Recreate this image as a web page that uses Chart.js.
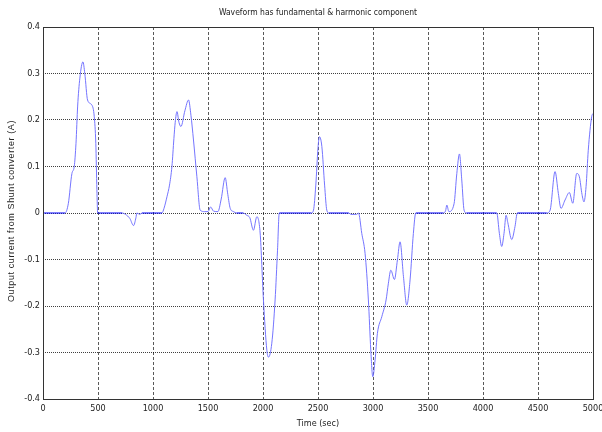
<!DOCTYPE html>
<html>
<head>
<meta charset="utf-8">
<script src="https://cdn.jsdelivr.net/npm/chart.js@4.4.1/dist/chart.umd.min.js"></script>
<style>
  html, body { margin: 0; padding: 0; background: #fff; }
  #wrap { width: 602px; height: 432px; }
</style>
</head>
<body>
<div id="wrap"><canvas id="ourChart" width="602" height="432"></canvas></div>
<script>
// values
let timeSec = [0, 200, 230, 263, 284, 300, 315, 335, 363, 380, 405, 445, 466, 480, 490, 497, 500,
    720, 750, 790, 823, 845, 853, 880, 900,
    1081, 1100, 1127, 1150, 1172, 1190, 1202, 1218, 1236, 1254, 1290, 1323, 1345, 1368, 1399, 1429,
    1470, 1500, 1524, 1550, 1590, 1620, 1656, 1680, 1702, 1732, 1760,
    1820, 1853, 1880, 1913, 1944, 1974, 2004, 2035, 2050, 2080, 2110, 2132, 2148,
    2440, 2459, 2480, 2500, 2513, 2535, 2560, 2580, 2600,
    2780, 2800, 2850, 2868, 2898, 2928, 2958, 2980, 2998, 3019, 3040, 3080, 3119, 3140, 3162,
    3195, 3222, 3246, 3277, 3307, 3337, 3367, 3389,
    3640, 3660, 3671, 3690, 3737, 3762, 3786, 3807, 3828, 3850,
    4125, 4149, 4170, 4191, 4210, 4225, 4261, 4291, 4312,
    4580, 4610, 4655, 4685, 4709, 4746, 4785, 4816, 4852, 4876, 4900, 4918, 4937, 4957, 4988, 5000];

let currentA = [0, 0, 0.02, 0.085, 0.10, 0.15, 0.23, 0.29, 0.325, 0.30, 0.243, 0.232, 0.207, 0.15, 0.05, 0, 0,
    0, -0.003, -0.012, -0.027, -0.01, 0, -0.003, 0,
    0, 0.01, 0.035, 0.06, 0.1, 0.16, 0.195, 0.218, 0.195, 0.186, 0.22, 0.243, 0.21, 0.157, 0.078, 0.006,
    0.003, 0.003, 0.013, 0.004, 0.003, 0.03, 0.076, 0.04, 0.01, 0.003, 0,
    0, -0.005, -0.01, -0.037, -0.008, -0.043, -0.187, -0.295, -0.31, -0.28, -0.187, -0.08, 0,
    0, 0.006, 0.06, 0.14, 0.164, 0.143, 0.06, 0.006, 0,
    0, -0.003, -0.003, 0, -0.044, -0.087, -0.187, -0.295, -0.352, -0.316, -0.259, -0.223, -0.187, -0.151, -0.123,
    -0.143, -0.101, -0.062, -0.137, -0.198, -0.144, -0.044, 0,
    0, 0.005, 0.017, 0.003, 0.02, 0.085, 0.127, 0.071, 0.006, 0,
    0, -0.044, -0.072, -0.044, -0.005, -0.02, -0.057, -0.029, 0,
    0, 0.006, 0.089, 0.042, 0.01, 0.028, 0.044, 0.021, 0.085, 0.078, 0.04, 0.024, 0.057, 0.135, 0.207, 0.214];

let xTicks = [0, 500, 1000, 1500, 2000, 2500, 3000, 3500, 4000, 4500, 5000];
let yTicks = [-0.4, -0.3, -0.2, -0.1, 0, 0.1, 0.2, 0.3, 0.4];

let chartTitle = 'Waveform has fundamental & harmonic component';
let xTitle = 'Time (sec)';
let yTitle = 'Output current from Shunt converter (A)';

let points = timeSec.map((t, i) => ({ x: t, y: currentA[i] }));

let narrow = "'DejaVu Sans Condensed', 'Liberation Sans Narrow', 'Liberation Sans', sans-serif";

// box round the plot and the texts outside it
const framePlugin = {
    id: 'frame',
    afterDraw(chart) {
        const ctx = chart.ctx;
        const a = chart.chartArea;
        ctx.save();
        ctx.strokeStyle = '#333';
        ctx.lineWidth = 1;
        ctx.strokeRect(Math.round(a.left) + 0.5, Math.round(a.top) + 0.5,
            Math.round(a.right - a.left), Math.round(a.bottom - a.top));

        ctx.fillStyle = '#222';
        ctx.textAlign = 'center';
        ctx.textBaseline = 'middle';
        ctx.font = '8.5px ' + narrow;
        ctx.fillText(chartTitle, (a.left + a.right) / 2, 13);

        ctx.font = '9px ' + narrow;
        ctx.fillText(xTitle, (a.left + a.right) / 2, 424);

        ctx.translate(12, 211);
        ctx.rotate(-Math.PI / 2);
        ctx.font = '9px "Liberation Sans", Arial, sans-serif';
        if ('letterSpacing' in ctx) ctx.letterSpacing = '0.6px';
        ctx.fillText(yTitle, 0, 0);
        ctx.restore();
    }
};

let ourCanvas = document.getElementById('ourChart');

const chartElement = new Chart(ourCanvas, {
    type: 'line',
    data: {
        datasets: [
            {
                data: points,
                borderColor: 'rgba(110, 110, 255, 0.95)',
                borderWidth: 1,
                pointRadius: 0,
                fill: false,
                cubicInterpolationMode: 'monotone',
                segment: {
                    borderColor: c => (c.p0.parsed.y === 0 && c.p1.parsed.y === 0) ? '#0000ff' : undefined
                }
            }
        ]
    },
    options: {
        responsive: false,
        animation: false,
        layout: { padding: { left: 0, right: 9, top: 27, bottom: 0 } },
        plugins: {
            legend: { display: false },
            title: { display: false },
            tooltip: { enabled: false }
        },
        scales: {
            x: {
                type: 'linear',
                min: 0,
                max: 5000,
                afterBuildTicks: s => { s.ticks = xTicks.map(v => ({ value: v })); },
                afterFit: s => { s.height = 33; s.paddingLeft = 0; s.paddingRight = 0; },
                grid: {
                    color: 'rgba(0,0,0,0.65)',
                    lineWidth: 1,
                    drawTicks: false
                },
                border: { display: false, dash: [3, 2] },
                ticks: {
                    color: '#222',
                    font: { size: 9, family: narrow },
                    padding: 4,
                    maxRotation: 0,
                    autoSkip: false,
                    callback: v => String(v)
                }
            },
            y: {
                type: 'linear',
                min: -0.4,
                max: 0.4,
                afterBuildTicks: s => { s.ticks = yTicks.map(v => ({ value: v })); },
                afterFit: s => { s.width = 43; s.paddingTop = 0; s.paddingBottom = 0; },
                grid: {
                    color: 'rgba(0,0,0,0.75)',
                    lineWidth: 1,
                    drawTicks: false
                },
                border: { display: false, dash: [1, 1] },
                ticks: {
                    color: '#222',
                    font: { size: 9, family: narrow },
                    padding: 3,
                    autoSkip: false,
                    callback: v => (Math.abs(v) < 1e-9 ? '0' : Number(v).toFixed(1))
                }
            }
        }
    },
    plugins: [framePlugin]
});
</script>
</body>
</html>
